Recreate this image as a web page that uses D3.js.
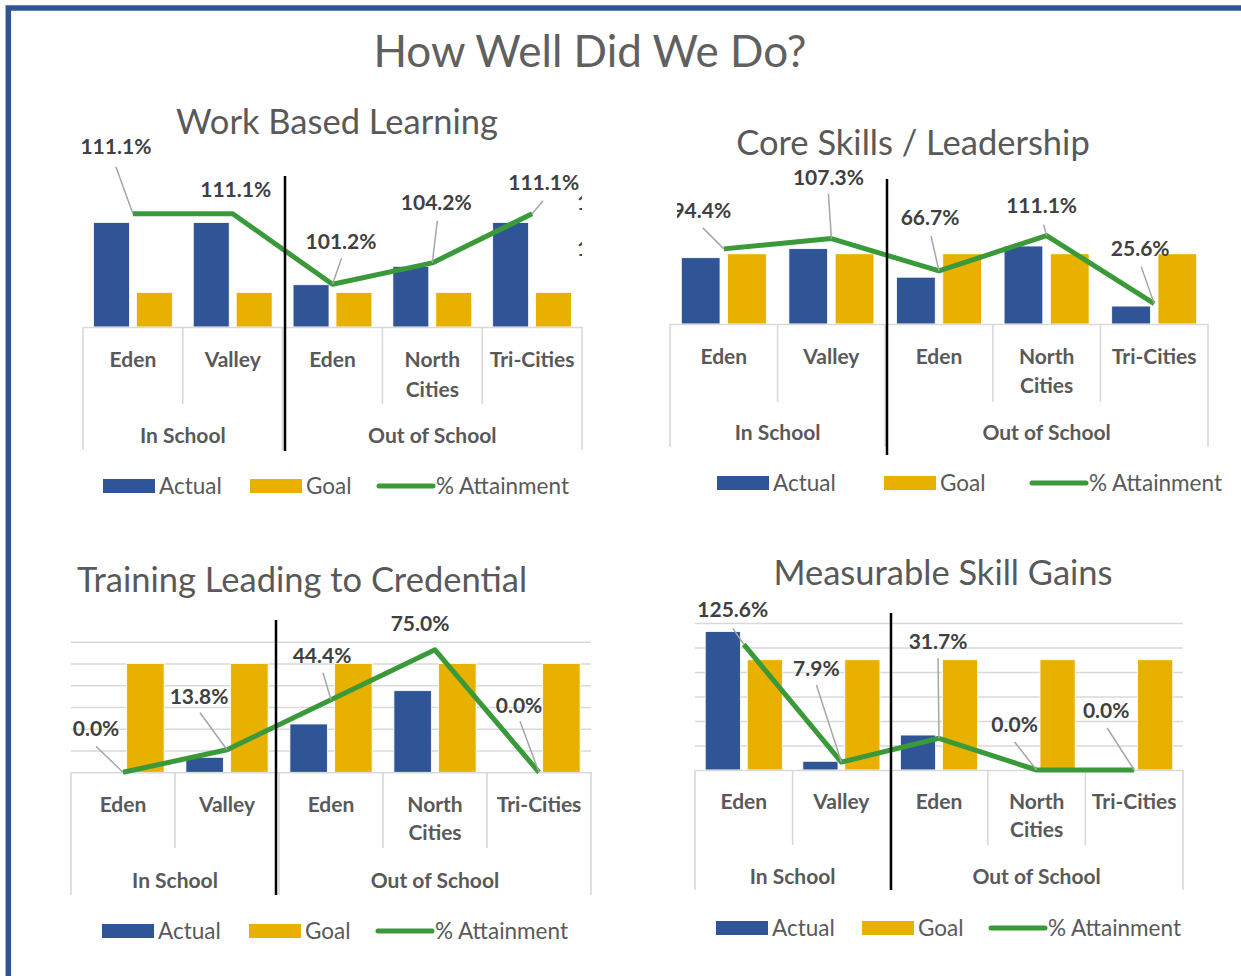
<!DOCTYPE html>
<html>
<head>
<meta charset="utf-8">
<script src="https://cdn.jsdelivr.net/npm/d3@7"></script>
<style>
  body { margin: 0; background: #fff; }
  svg { display: block; }
</style>
</head>
<body>
<script>
//////////////// Daten ////////////////////
const sites = ["Eden", "Valley", "Eden", "North Cities", "Tri-Cities"];
const groups = ["In School", "Out of School"];
const siteGroup = [0, 0, 1, 1, 1];
const series = ["Actual", "Goal"];

// Work Based Learning
const wblActual = [34.6, 34.6, 14.0, 20.1, 34.6];
const wblGoal = [11.4, 11.4, 11.4, 11.4, 11.4];
const wblAttain = [1.111, 1.111, 1.012, 1.042, 1.111];

// Core Skills / Leadership
const coreActual = [85, 96.6, 60, 100, 23];
const coreGoal = [90, 90, 90, 90, 90];
const coreAttain = [0.944, 1.073, 0.667, 1.111, 0.256];

// Training Leading to Credential
const tlcActual = [0, 3.45, 11.1, 18.75, 0];
const tlcGoal = [25, 25, 25, 25, 25];
const tlcAttain = [0, 0.138, 0.444, 0.75, 0];

// Measurable Skill Gains
const msgActual = [56.5, 3.55, 14.27, 0, 0];
const msgGoal = [45, 45, 45, 45, 45];
const msgAttain = [1.256, 0.079, 0.317, 0, 0];

//////////////// Konstanten ////////////////////
const W = 1241, H = 976;
const BLUE = "#2f5597", GOLD = "#e8b100", GREEN = "#3a9a3a";
const TXT = "#595959", LAB = "#404040", GRID = "#d9d9d9";
const FONT = "Lato, 'Open Sans', sans-serif";
const pct = d3.format(".1%");

const svg = d3.select("body").append("svg")
  .attr("width", W).attr("height", H)
  .style("font-family", FONT);

svg.append("rect").attr("width", W).attr("height", H).attr("fill", "#fff");
// blue frame, runs off the right and bottom edge
svg.append("rect")
  .attr("x", 8.3).attr("y", 8)
  .attr("width", 1400).attr("height", 1200)
  .attr("fill", "none").attr("stroke", BLUE).attr("stroke-width", 5.5);

svg.append("text")
  .attr("x", 590).attr("y", 67)
  .attr("text-anchor", "middle")
  .attr("font-size", 44).attr("fill", "#606060")
  .text("How Well Did We Do?");

//////////////// Chart layouts ////////////////////
// lab: [dx, dy, leaderDx, leaderDy] relative to the line point
const charts = [
  {
    title: "Work Based Learning", titleX: 337, titleY: 134,
    actual: wblActual, goal: wblGoal, attain: wblAttain,
    left: 83, right: 582, top: 176, base: 327,
    yDomain: [0, 50], y2Domain: [0.952, 1.164], gridStep: null,
    sepX: 285, sepTop: 176, sepBottom: 451,
    row1: 359, rowGap: 30, groupY: 435, innerBottom: 404, outerBottom: 450,
    clip: [60, 582],
    legendY: 486, legendX: [103, 250, 379],
    lab: [[-17, -67, -17, -47], [3, -24, null, null], [8.5, -43, 9, -26], [4, -60, 5, -42], [11.6, -31, 11, -13]],
    stubs: [[577, 202], [577, 248]]
  },
  {
    title: "Core Skills / Leadership", titleX: 913, titleY: 155,
    actual: coreActual, goal: coreGoal, attain: coreAttain,
    left: 670, right: 1208, top: 168, base: 324,
    yDomain: [0, 200], y2Domain: [0, 1.96], gridStep: null,
    sepX: 887, sepTop: 179, sepBottom: 455,
    row1: 356, rowGap: 29, groupY: 432, innerBottom: 402, outerBottom: 447,
    clip: [677, 1241],
    legendY: 483, legendX: [717, 884, 1032],
    lab: [[-22, -38, -21, -21], [-3, -61, -3, -45], [-9, -53, -8, -35], [-5, -30, -3, -11], [-14, -55, -13, -37]],
    stubs: []
  },
  {
    title: "Training Leading to Credential", titleX: 302, titleY: 592,
    actual: tlcActual, goal: tlcGoal, attain: tlcAttain,
    left: 71, right: 591, top: 641.7, base: 772.3,
    yDomain: [0, 30], y2Domain: [0, 0.8], gridStep: 5,
    sepX: 276, sepTop: 620, sepBottom: 895,
    row1: 804, rowGap: 28, groupY: 880, innerBottom: 848, outerBottom: 895,
    clip: [40, 620],
    legendY: 931, legendX: [102, 249, 378],
    lab: [[-27, -44, -27, -26], [-28, -53, -27, -37], [-9, -44, -8, -27], [-15, -26, null, null], [-20, -67, -19, -51]],
    stubs: []
  },
  {
    title: "Measurable Skill Gains", titleX: 943, titleY: 585,
    actual: msgActual, goal: msgGoal, attain: msgAttain,
    left: 695, right: 1183, top: 623, base: 770,
    yDomain: [0, 60], y2Domain: [0, 1.47], gridStep: 10,
    sepX: 891, sepTop: 613, sepBottom: 890,
    row1: 801, rowGap: 28, groupY: 876, innerBottom: 845, outerBottom: 890,
    clip: [660, 1241],
    legendY: 928, legendX: [716, 862, 991],
    lab: [[-11, -35, -11, -16], [-25, -94, -25, -77], [-1, -97, -1, -80], [-22, -46, -22, -28], [-28, -60, -27, -42]],
    stubs: []
  }
];

//////////////// Funktionen ///////////////
function drawChart(c, k) {
  const g = svg.append("g").attr("class", "chart" + k);

  const x = d3.scaleBand().domain(d3.range(sites.length)).range([c.left, c.right]);
  const xs = d3.scaleBand().domain(series).range([0, x.bandwidth()])
    .paddingInner(0.163).paddingOuter(0.244);
  const y = d3.scaleLinear().domain(c.yDomain).range([c.base, c.top]);
  const y2 = d3.scaleLinear().domain(c.y2Domain).range([c.base, c.top]);

  const clipId = "clip" + k;
  svg.append("clipPath").attr("id", clipId)
    .append("rect").attr("x", c.clip[0]).attr("y", 0)
    .attr("width", c.clip[1] - c.clip[0]).attr("height", H);

  // title
  g.append("text")
    .attr("x", c.titleX).attr("y", c.titleY)
    .attr("text-anchor", "middle")
    .attr("font-size", 34.5).attr("fill", TXT)
    .text(c.title);

  // gridlines
  if (c.gridStep) {
    g.append("g")
      .attr("transform", "translate(" + c.left + ",0)")
      .call(d3.axisLeft(y)
        .tickValues(d3.range(c.gridStep, c.yDomain[1] + 0.001, c.gridStep))
        .tickSize(-(c.right - c.left)).tickFormat(""))
      .call(a => a.select(".domain").remove())
      .selectAll("line").attr("stroke", GRID).attr("stroke-width", 1.4);
  }

  const rows = sites.map((s, i) => ({i: i, Actual: c.actual[i], Goal: c.goal[i], att: c.attain[i]}));

  // bars
  series.forEach(function(s) {
    g.selectAll("rect.b" + s)
      .data(rows)
      .join("rect")
      .attr("class", "b" + s)
      .attr("x", d => x(d.i) + xs(s))
      .attr("y", d => y(d[s]))
      .attr("width", xs.bandwidth())
      .attr("height", d => c.base - y(d[s]))
      .attr("fill", s === "Actual" ? BLUE : GOLD)
      .attr("stroke", "#fff").attr("stroke-width", 0.8);
  });

  // category axis
  const ax = g.append("g")
    .attr("transform", "translate(0," + c.base + ")")
    .call(d3.axisBottom(x).tickSize(0).tickSizeOuter(0).tickFormat(i => sites[i]));
  ax.select(".domain").attr("stroke", GRID).attr("stroke-width", 1.6);
  ax.selectAll(".tick text")
    .attr("font-family", FONT).attr("font-size", 21).attr("font-weight", "bold")
    .attr("fill", TXT)
    .attr("y", c.row1 - c.base).attr("dy", "0.36em")
    .each(function(i) {
      const words = sites[i].split(" ");
      if (words.length < 2) return;
      const t = d3.select(this).text(null);
      words.forEach((w, j) => t.append("tspan").attr("x", 0)
        .attr("y", c.row1 - c.base + j * c.rowGap).attr("dy", "0.36em").text(w));
    });

  // divider lines of the two level axis
  d3.range(sites.length + 1).forEach(function(j) {
    const xx = j < sites.length ? x(j) : c.right;
    const full = j === 0 || j === sites.length || siteGroup[j] !== siteGroup[j - 1];
    g.append("line")
      .attr("x1", xx).attr("x2", xx)
      .attr("y1", c.base).attr("y2", full ? c.outerBottom : c.innerBottom)
      .attr("stroke", GRID).attr("stroke-width", 1.6);
  });

  // group labels
  groups.forEach(function(grp, gi) {
    const idx = d3.range(sites.length).filter(i => siteGroup[i] === gi);
    const x0 = x(idx[0]), x1 = x(idx[idx.length - 1]) + x.bandwidth();
    g.append("text")
      .attr("x", (x0 + x1) / 2).attr("y", c.groupY).attr("dy", "0.36em")
      .attr("text-anchor", "middle")
      .attr("font-size", 21).attr("font-weight", "bold").attr("fill", TXT)
      .text(grp);
  });

  // % attainment line
  const line = d3.line()
    .x(d => x(d.i) + x.bandwidth() / 2)
    .y(d => y2(d.att));
  const lg = g.append("g").attr("clip-path", "url(#" + clipId + ")");
  lg.append("path")
    .datum(rows)
    .attr("d", line)
    .attr("fill", "none").attr("stroke", GREEN)
    .attr("stroke-width", 5).attr("stroke-linejoin", "round");

  // black separator
  g.append("line")
    .attr("x1", c.sepX).attr("x2", c.sepX)
    .attr("y1", c.sepTop).attr("y2", c.sepBottom)
    .attr("stroke", "#000").attr("stroke-width", 2.5);

  // data labels + leader lines
  rows.forEach(function(d) {
    const px = x(d.i) + x.bandwidth() / 2, py = y2(d.att);
    const o = c.lab[d.i];
    if (o[2] !== null) {
      lg.append("line")
        .attr("x1", px + o[2]).attr("y1", py + o[3])
        .attr("x2", px).attr("y2", py)
        .attr("stroke", "#a6a6a6").attr("stroke-width", 1.5);
    }
    lg.append("text")
      .attr("x", px + o[0]).attr("y", py + o[1]).attr("dy", "0.36em")
      .attr("text-anchor", "middle")
      .attr("font-size", 21).attr("font-weight", "bold").attr("fill", LAB)
      .text(pct(d.att));
  });
  // labels cut off by the chart area
  c.stubs.forEach(function(s) {
    lg.append("text")
      .attr("x", s[0]).attr("y", s[1]).attr("dy", "0.36em")
      .attr("font-size", 21).attr("font-weight", "bold").attr("fill", LAB)
      .text("1");
  });

  // legend
  const lgd = g.append("g").attr("font-size", 22.5).attr("fill", TXT);
  const ly = c.legendY;
  lgd.append("rect").attr("x", c.legendX[0]).attr("y", ly - 7).attr("width", 52).attr("height", 14).attr("fill", BLUE);
  lgd.append("text").attr("x", c.legendX[0] + 56).attr("y", ly).attr("dy", "0.36em").text("Actual");
  lgd.append("rect").attr("x", c.legendX[1]).attr("y", ly - 7).attr("width", 52).attr("height", 14).attr("fill", GOLD);
  lgd.append("text").attr("x", c.legendX[1] + 56).attr("y", ly).attr("dy", "0.36em").text("Goal");
  lgd.append("line").attr("x1", c.legendX[2]).attr("x2", c.legendX[2] + 54)
    .attr("y1", ly).attr("y2", ly)
    .attr("stroke", GREEN).attr("stroke-width", 5).attr("stroke-linecap", "round");
  lgd.append("text").attr("x", c.legendX[2] + 57).attr("y", ly).attr("dy", "0.36em").text("% Attainment");
}

charts.forEach(drawChart);
</script>
</body>
</html>
